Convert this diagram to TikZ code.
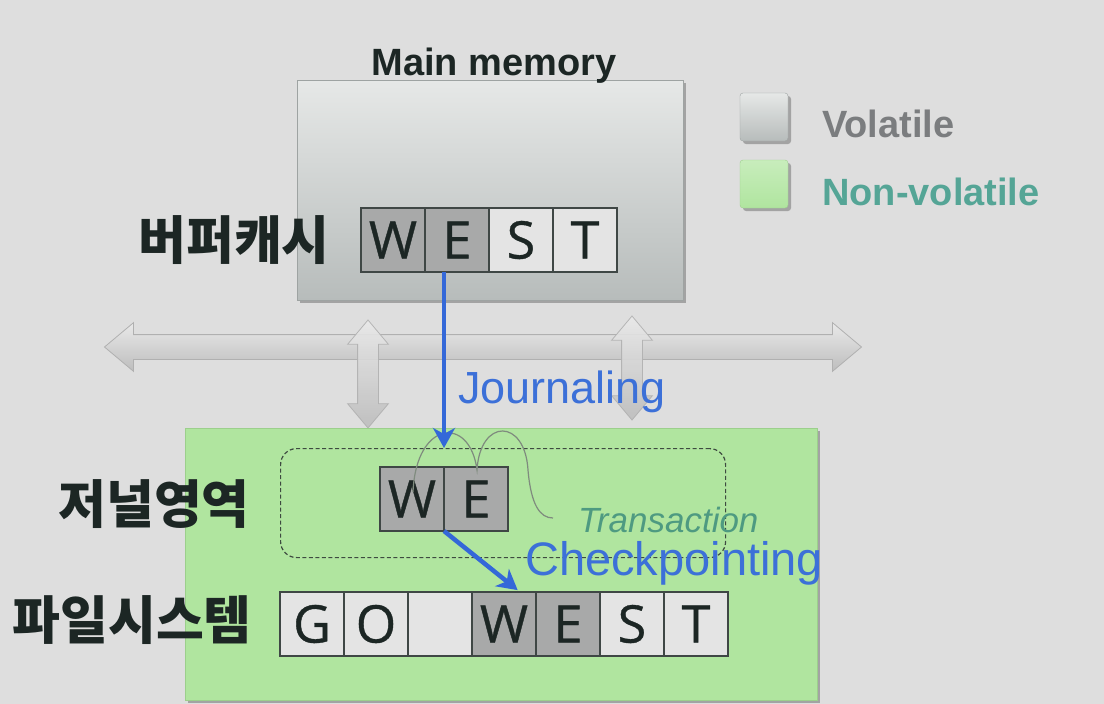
\documentclass[tikz,border=0pt]{standalone}
\usepackage{fontspec}
\setmainfont{Liberation Sans}
\newfontfamily\korfont{Noto Sans CJK KR}
\newfontfamily\cellfont{Open Sans}[FakeBold=0.7]
\usetikzlibrary{calc,positioning,arrows.meta,shapes.arrows,shadows}
\newcommand{\JrnSize}[1]{\fontsize{#1}{#1}\selectfont}

\definecolor{bggray}{HTML}{DEDEDE}
\definecolor{memtop}{HTML}{E6E8E7}
\definecolor{membot}{HTML}{B7BCBB}
\definecolor{memedge}{HTML}{9EA3A2}
\definecolor{celldark}{HTML}{A8A9A9}
\definecolor{celllight}{HTML}{E4E4E4}
\definecolor{celledge}{HTML}{3F4745}
\definecolor{celltext}{HTML}{1C2624}
\definecolor{nvgreen}{HTML}{B0E59F}
\definecolor{nvedge}{HTML}{9CCF8C}
\definecolor{areaedge}{HTML}{3E4B40}
\definecolor{flowblue}{HTML}{3468D8}
\definecolor{textblue}{HTML}{3C70D8}
\definecolor{voltext}{HTML}{7B7D7F}
\definecolor{nonvoltext}{HTML}{55A596}
\definecolor{transtext}{HTML}{4E9A81}
\definecolor{wavegray}{HTML}{7F8B7E}
\definecolor{busA}{HTML}{E9E9E9}
\definecolor{busB}{HTML}{BDBDBD}
\definecolor{busedge}{HTML}{B0B0B0}

\begin{document}
\begin{tikzpicture}[x=1pt, y=-1pt, >=Latex,
    cellbox/.style={draw=celledge, line width=1.2pt, minimum width=64pt, minimum height=64pt,
                    inner sep=0pt, outer sep=0pt, anchor=north west, text=celltext, font=\cellfont\JrnSize{52}},
    darkcell/.style={cellbox, fill=celldark},
    lightcell/.style={cellbox, fill=celllight},
    busarrow/.style={double arrow, double arrow tip angle=80, inner sep=12pt, double arrow head extend=12pt,
                     top color=busA, bottom color=busB, draw=busedge, line width=0.8pt},
    flowarrow/.style={-{Stealth[length=20pt,width=22pt,inset=6pt]}, draw=flowblue, line width=3.5pt},
    korlabel/.style={font=\korfont\bfseries\JrnSize{52}, text=celltext, anchor=east, inner sep=0pt},
    boxshadow/.style={drop shadow={shadow xshift=3pt, shadow yshift=-3pt, fill=black!70, opacity=0.4}}]
    \useasboundingbox (0,0) rectangle (1104,704);
    \fill[bggray] (0,0) rectangle (1104,704);

    % draw the bus and its two ports
    \node (bus) at (483,347) [busarrow, minimum height=757pt] {};
    \node (portL) at (368,374) [busarrow, rotate=90, inner sep=10pt, double arrow head extend=10pt,
                                minimum height=108pt, opacity=0.9] {};
    \node (portR) at (632,368) [busarrow, rotate=90, inner sep=10pt, double arrow head extend=10pt,
                                minimum height=104pt, opacity=0.9] {};

    % draw the two memories
    \node (mainbox) at (297,80) [anchor=north west, minimum width=386pt, minimum height=220pt,
                                 top color=memtop, bottom color=membot, draw=memedge, boxshadow] {};
    \node (nvbox) at (185,428) [anchor=north west, minimum width=632pt, minimum height=272pt,
                                fill=nvgreen, draw=nvedge, boxshadow] {};
    \node (lblMain) at (494,75) [anchor=base, inner sep=0pt, font=\bfseries\JrnSize{38}, text=celltext] {Main memory};

    % draw legend
    \node (sqVol) at (764,117) [minimum size=48pt, rounded corners=3pt, top color=memtop, bottom color=membot,
                                draw=memedge, boxshadow] {};
    \node (sqNonVol) at (764,184) [minimum size=48pt, rounded corners=3pt, top color=nvgreen!70!white,
                                   bottom color=nvgreen, draw=nvedge, boxshadow] {};
    \node (lblVol) at (822,137) [anchor=base west, inner sep=0pt, font=\bfseries\JrnSize{38}, text=voltext] {Volatile};
    \node (lblNonVol) at (822,205) [anchor=base west, inner sep=0pt, font=\bfseries\JrnSize{38}, text=nonvoltext] {Non-volatile};

    % buffer cache
    \node (lblBuf) at (330,240) [korlabel] {버퍼캐시};
    \node (bufW) at (361,208) [darkcell] {W};
    \node (bufE) [darkcell, right=0pt of bufW] {E};
    \node (bufS) [lightcell, right=0pt of bufE] {S};
    \node (bufT) [lightcell, right=0pt of bufS] {T};

    % journal area
    \node (jrnarea) at (280,448) [anchor=north west, minimum width=445pt, minimum height=109pt, draw=areaedge,
                                  dash pattern=on 4pt off 2.5pt, rounded corners=16pt, line width=1.2pt] {};
    \node (lblJrn) at (250,504) [korlabel] {저널영역};
    \node (jrnW) at (380,467) [darkcell] {W};
    \node (jrnE) [darkcell, right=0pt of jrnW] {E};

    % file system
    \node (lblFs) at (252,620) [korlabel] {파일시스템};
    \node (fsG) at (280,592) [lightcell] {G};
    \node (fsO) [lightcell, right=0pt of fsG] {O};
    \node (fsB) [lightcell, right=0pt of fsO] {};
    \node (fsW) [darkcell, right=0pt of fsB] {W};
    \node (fsE) [darkcell, right=0pt of fsW] {E};
    \node (fsS) [lightcell, right=0pt of fsE] {S};
    \node (fsT) [lightcell, right=0pt of fsS] {T};

    % transaction wave
    \draw[wavegray, line width=1.2pt] (413,492) .. controls (416,420) and (470,415) .. (477,470)
        .. controls (480,418) and (525,418) .. (528,470) .. controls (531,505) and (540,518) .. (553,518);
    \node (lblTrans) at (578,532) [anchor=base west, inner sep=0pt, font=\itshape\JrnSize{35}, text=transtext] {Transaction};

    % journaling and checkpointing
    \draw[flowarrow] (bufE.south -| jrnW.north east) -- (jrnarea.north -| jrnW.north east);
    \node (lblJournaling) at (458,403) [anchor=base west, inner sep=0pt, font=\JrnSize{45}, text=textblue] {Journaling};
    \coordinate (ckptEnd) at ($(fsW.north)!0.5!(fsW.north east)$);
    \draw[flowarrow, line width=4.5pt, shorten >=3pt] (jrnW.south east) -- (ckptEnd);
    \node (lblCheckpoint) at (525,575) [anchor=base west, inner sep=0pt, font=\JrnSize{47}, text=textblue] {Checkpointing};
  \end{tikzpicture}
\end{document}
